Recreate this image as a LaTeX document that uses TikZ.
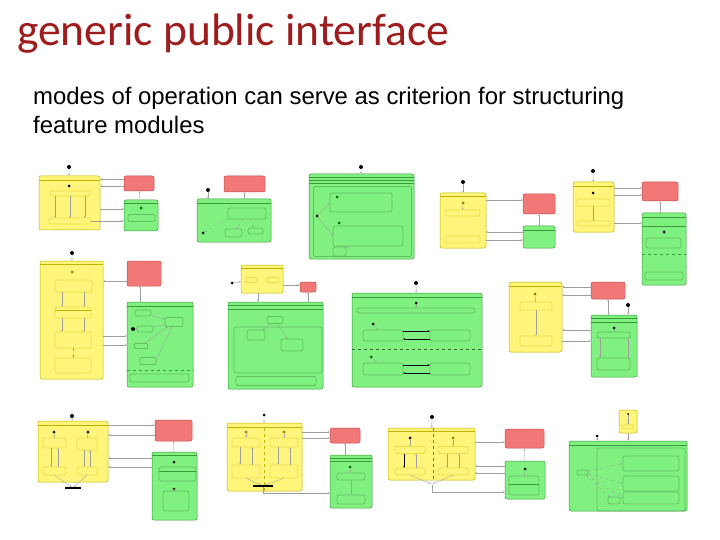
\documentclass[tikz,border=0pt]{standalone}
\usepackage{fontspec}
\setmainfont{Liberation Sans}
\newfontfamily\titlefont{Carlito}
\usepackage{tikz}
\usetikzlibrary{arrows.meta, positioning}

\definecolor{titlered}{HTML}{9E1C1C}
\definecolor{yfill}{HTML}{FFF57A}
\definecolor{ybord}{HTML}{C2B200}
\definecolor{rfill}{HTML}{F27878}
\definecolor{rbord}{HTML}{C04A4A}
\definecolor{gfill}{HTML}{80F080}
\definecolor{gbord}{HTML}{3A9A3A}

\begin{document}
\begin{tikzpicture}[
    x=1pt, y=-1pt,
    >={Stealth[length=2pt, width=1.6pt]},
    modebox/.style={rectangle, rounded corners=2pt, line width=0.5pt, inner sep=0pt},
    ymode/.style={modebox, draw=ybord, fill=yfill},
    rmode/.style={modebox, draw=rbord, fill=rfill},
    gmode/.style={modebox, draw=gbord, fill=gfill},
    ysub/.style={rectangle, rounded corners=1.5pt, draw=ybord, line width=0.3pt, inner sep=0pt},
    gsub/.style={rectangle, rounded corners=1.5pt, draw=gbord!70!black, line width=0.3pt, inner sep=0pt},
    startdot/.style={circle, fill=black, inner sep=0pt, minimum size=4pt},
    ydot/.style={startdot, fill=olive!90!black, minimum size=3pt},
    gdot/.style={startdot, fill=green!40!black, minimum size=3pt},
    sz/.style 2 args={minimum width=#1pt, minimum height=#2pt},
    arrow/.style={->, draw=gray!75, line width=0.35pt},
    hdr/.style={line width=0.3pt}
]
\useasboundingbox (0,0) rectangle (720,540);

% Heading
\node (title) [anchor=base west, inner sep=0pt, text=titlered, font=\titlefont\fontsize{45.5}{45}\selectfont] at (17,46) {generic public interface};
\node (lead1) [anchor=base west, inner sep=0pt, font=\fontsize{23.9}{26}\selectfont] at (33,105) {modes of operation can serve as criterion for structuring};
\node (lead2) [anchor=base west, inner sep=0pt, font=\fontsize{23.9}{26}\selectfont] at (33,134) {feature modules};

% Row 1, thumbnail A
\node (modeA) [ymode, sz={61}{54}] at (69.5,203) {};
\node (failA) [rmode, sz={30}{15}] at (139,183.5) {};
\node (actA) [gmode, sz={34}{31}] at (141,215.5) {};
\node (initA) [startdot] at (69,167) {};
\node (dotA) [startdot, minimum size=3pt] at (69,186) {};
\node (stA1) [ysub, sz={40}{5}] at (70,193.5) {};
\node (stA2) [ysub, sz={42}{6}] at (70,221) {};
\node (dotA2) [gdot] at (141,208) {};
\node (stA3) [gsub, sz={27}{7}] at (141.5,218) {};
\draw [ybord, hdr] ([yshift=-4pt]modeA.north west) -- ([yshift=-4pt]modeA.north east);
\draw [gbord, hdr] ([yshift=-3pt]actA.north west) -- ([yshift=-3pt]actA.north east);
\draw [arrow] (initA) -- (modeA);
\draw [arrow] (failA.west |- 0,179) -- (modeA.east |- 0,179);
\draw [arrow] (failA.west |- 0,186) -- (modeA.east |- 0,186);
\draw [arrow] (actA) -- (failA);
\draw [arrow] (modeA.east |- 0,209) -- (actA.west |- 0,209);
\draw [arrow] (stA2.east) -- (actA.west |- stA2.east);
\draw [arrow] (stA1.south -| 55,0) -- (stA2.north -| 55,0);
\draw [arrow] (stA1.south -| 70,0) -- (stA2.north -| 70,0);
\draw [arrow] (stA1.south -| 85,0) -- (stA2.north -| 85,0);

% Row 1, thumbnail B
\node (failB) [rmode, sz={41}{16}] at (244.5,184) {};
\node (actB) [gmode, sz={74}{43}] at (234,220.5) {};
\node (initB) [startdot] at (208,190) {};
\node (stB1) [gsub, sz={38}{11}] at (247,213.5) {};
\node (stB2) [gsub, sz={17}{8}] at (233.5,233) {};
\node (stB3) [gsub, sz={15}{6}] at (255.5,231) {};
\node (dotB) [startdot, minimum size=3pt] at (203,233) {};
\draw [gbord, hdr] ([yshift=-4pt]actB.north west) -- ([yshift=-4pt]actB.north east);
\draw [arrow] (initB) -- (actB.north -| initB);
\draw [arrow] (actB.north -| failB) -- (failB);
\draw [arrow, dashed] (stB1) -- (stB2);
\draw [arrow, dashed] (stB1) -- (stB3);
\draw [arrow, dashed] (stB1.south west) -- (dotB);

% Row 1, thumbnail C
\node (actC) [gmode, sz={105}{85}] at (361.5,216.5) {};
\node (initC) [startdot] at (361,167) {};
\node (regC) [gsub, sz={98}{70}] at (362.5,221.5) {};
\node (stC1) [gsub, sz={62}{19}] at (361,202.5) {};
\node (stC2) [gsub, sz={70}{20}] at (368,236) {};
\node (stC3) [gsub, sz={13}{9}] at (339.5,251.5) {};
\node (dotC) [startdot, minimum size=3pt] at (317,216) {};
\node (dotC1) [gdot] at (337,197) {};
\node (dotC2) [gdot] at (339,223) {};
\draw [gbord, hdr] ([yshift=-3pt]actC.north west) -- ([yshift=-3pt]actC.north east);
\draw [gbord, hdr] ([yshift=-6pt]actC.north west) -- ([yshift=-6pt]actC.north east);
\draw [gbord, hdr] ([yshift=-9pt]actC.north west) -- ([yshift=-9pt]actC.north east);
\draw [arrow] (initC) -- (actC);
\draw [arrow] (dotC) -- (stC1.west);
\draw [arrow] (dotC) -- (stC2.west);
\draw [arrow] (stC2) -- (stC3);

% Row 1, thumbnail D
\node (modeD) [ymode, sz={46}{55}] at (463,220.5) {};
\node (failD) [rmode, sz={32}{20}] at (539,204) {};
\node (actD) [gmode, sz={32}{22}] at (539,237) {};
\node (initD) [startdot] at (463,182) {};
\node (dotD) [ydot] at (463,203) {};
\node (stD1) [ysub, sz={35}{6}] at (462.5,213) {};
\node (stD2) [ysub, sz={35}{7}] at (462.5,239.5) {};
\draw [ybord, hdr] ([yshift=-3pt]modeD.north west) -- ([yshift=-3pt]modeD.north east);
\draw [gbord, hdr] ([yshift=-4pt]actD.north west) -- ([yshift=-4pt]actD.north east);
\draw [arrow] (initD) -- (modeD);
\draw [arrow] (dotD) -- (stD1);
\draw [arrow] (modeD.east |- 0,200) -- (failD.west |- 0,200);
\draw [arrow] (actD) -- (failD);
\draw [arrow] (actD.west |- 0,232) -- (modeD.east |- 0,232);
\draw [arrow] (modeD.east |- 0,240) -- (actD.west |- 0,240);

% Row 1, thumbnail E
\node (modeE) [ymode, sz={41}{50}] at (593.5,207) {};
\node (failE) [rmode, sz={36}{19}] at (660,191.5) {};
\node (actE) [gmode, sz={44}{72}] at (664,249) {};
\node (initE) [startdot] at (593,171) {};
\node (dotE) [startdot, minimum size=3pt] at (593,193) {};
\node (stE1) [ysub, sz={33}{7}] at (593.5,202.5) {};
\node (stE2) [ysub, sz={33}{5}] at (593.5,223.5) {};
\node (dotE2) [startdot, minimum size=3pt] at (664,232) {};
\node (stE3) [gsub, sz={35}{10}] at (663.5,243) {};
\node (stE4) [gsub, sz={38}{8}] at (664,276) {};
\draw [ybord, hdr] ([yshift=-4pt]modeE.north west) -- ([yshift=-4pt]modeE.north east);
\draw [gbord, hdr] ([yshift=-4pt]actE.north west) -- ([yshift=-4pt]actE.north east);
\draw [gbord, hdr] ([yshift=-13pt]actE.north west) -- ([yshift=-13pt]actE.north east);
\draw [gbord, hdr, dashed] ([yshift=-41pt]actE.north west) -- ([yshift=-41pt]actE.north east);
\draw [arrow] (initE) -- (modeE);
\draw [arrow] (stE1) -- (stE2);
\draw [arrow] (modeE.east |- 0,188) -- (failE.west |- 0,188);
\draw [arrow] (modeE.east |- 0,195) -- (failE.west |- 0,195);
\draw [arrow] (actE.north -| failE) -- (failE);
\draw [arrow] (modeE.east |- 0,223) -- (actE.west |- 0,223);

% Row 2, thumbnail F
\node (modeF) [ymode, sz={63}{118}] at (71.5,320) {};
\node (failF) [rmode, sz={34}{25}] at (144,273.5) {};
\node (actF) [gmode, sz={66}{85}] at (160,344.5) {};
\node (initF) [startdot] at (72,253) {};
\node (dotF) [ydot] at (72,272) {};
\node (stF1) [ysub, sz={37}{12}] at (73.5,286) {};
\node (stF2) [ysub, sz={36}{11}] at (73,312.5) {};
\node (stF3) [ysub, sz={36}{16}] at (73,340) {};
\node (stF4) [ysub, sz={36}{15}] at (73,365.5) {};
\node (dotF2) [startdot] at (133,329) {};
\node (stF5) [gsub, sz={16}{6}] at (143,313) {};
\node (stF6) [gsub, sz={16}{6}] at (145,329) {};
\node (stF7) [gsub, sz={14}{5}] at (141,346) {};
\node (stF8) [gsub, sz={18}{9}] at (174,322) {};
\node (stF9) [gsub, sz={16}{7}] at (148,361) {};
\node (stF10) [gsub, sz={59}{8}] at (159.5,378) {};
\draw [ybord, hdr] ([yshift=-3pt]modeF.north west) -- ([yshift=-3pt]modeF.north east);
\draw [gbord, hdr] ([yshift=-4pt]actF.north west) -- ([yshift=-4pt]actF.north east);
\draw [gbord, hdr, dashed] ([yshift=-68pt]actF.north west) -- ([yshift=-68pt]actF.north east);
\draw [ybord, hdr] ([yshift=-3pt]stF2.north west) -- ([yshift=-3pt]stF2.north east);
\draw [arrow] (initF) -- (modeF);
\draw [arrow] (stF1.south -| 62,0) -- (stF2.north -| 62,0);
\draw [arrow] (stF1.south -| 84,0) -- (stF2.north -| 84,0);
\draw [arrow] (stF2.south -| 62,0) -- (stF3.north -| 62,0);
\draw [arrow] (stF2.south -| 84,0) -- (stF3.north -| 84,0);
\draw [arrow, dashed] (stF3) -- (stF4);
\draw [arrow] (failF.west |- 0,281) -- (modeF.east |- 0,281);
\draw [arrow] (actF.north -| 140,0) -- (failF.south -| 140,0);
\draw [arrow] (modeF.east |- 0,336) -- (actF.west |- 0,336);
\draw [arrow] (modeF.east |- 0,345) -- (actF.west |- 0,345);
\draw [arrow] (dotF2) -- (stF6);
\draw [arrow] (stF5) -- (stF8);
\draw [arrow] (stF6) -- (stF8);
\draw [arrow] (stF7) -- (stF8);
\draw [arrow] (stF9.east) -- (stF8);

% Row 2, thumbnail G
\node (modeG) [ymode, sz={42}{28}] at (262,279) {};
\node (failG) [rmode, sz={16}{10}] at (308,287) {};
\node (actG) [gmode, sz={95}{87}] at (275.5,345.5) {};
\node (initG) [startdot, minimum size=3pt] at (232,283) {};
\node (stG1) [ysub, sz={12}{5}] at (251,280) {};
\node (stG2) [ysub, sz={12}{5}] at (273,280) {};
\node (regG) [gsub, sz={88}{46}] at (278,350) {};
\node (stG3) [gsub, sz={16}{7}] at (275,320) {};
\node (stG4) [gsub, sz={18}{10}] at (256,335) {};
\node (stG5) [gsub, sz={22}{12}] at (292,345) {};
\node (stG6) [gsub, sz={80}{9}] at (276,381) {};
\draw [ybord, hdr] ([yshift=-3pt]modeG.north west) -- ([yshift=-3pt]modeG.north east);
\draw [gbord, hdr] ([yshift=-3pt]actG.north west) -- ([yshift=-3pt]actG.north east);
\draw [gbord, hdr] ([yshift=-7pt]actG.north west) -- ([yshift=-7pt]actG.north east);
\draw [arrow] (initG) -- (modeG);
\draw [arrow] (modeG.east |- 0,285) -- (failG.west |- 0,285);
\draw [arrow] (actG.north -| failG) -- (failG);
\draw [arrow] (modeG.south -| 258,0) -- (actG.north -| 258,0);
\draw [arrow] (stG3) -- (stG4);
\draw [arrow] (stG3) -- (stG5);

% Row 2, thumbnail H
\node (actH) [gmode, sz={130}{94}] at (417,340) {};
\node (initH) [startdot] at (416,283) {};
\node (dotH) [startdot, minimum size=3pt] at (416,303) {};
\node (regH) [gsub, sz={118}{5}] at (416,310.5) {};
\node (stH1) [gsub, sz={40}{11}] at (383,335.5) {};
\node (stH2) [gsub, sz={40}{11}] at (450,335.5) {};
\node (stH3) [gsub, sz={40}{12}] at (383,369) {};
\node (stH4) [gsub, sz={40}{12}] at (450,369) {};
\node (dotH1) [startdot, minimum size=3pt] at (373,324) {};
\node (dotH2) [gdot] at (371,357) {};
\draw [gbord, hdr] ([yshift=-4pt]actH.north west) -- ([yshift=-4pt]actH.north east);
\draw [gbord!70!black, hdr, dashed] ([yshift=-56pt]actH.north west) -- ([yshift=-56pt]actH.north east);
\draw [arrow] (initH) -- (actH);
\draw [arrow] (dotH) -- (regH);
\draw [arrow] (dotH1) -- (stH1);
\draw [arrow] (dotH2) -- (stH3);
\draw [->, thick] (stH1.east |- 0,331) -- (stH2.west |- 0,331);
\draw [->, thick] (stH2.west |- 0,339) -- (stH1.east |- 0,339);
\draw [->, thick] (stH3.east |- 0,365) -- (stH4.west |- 0,365);
\draw [->, thick] (stH4.west |- 0,373) -- (stH3.east |- 0,373);

% Row 2, thumbnail I
\node (modeI) [ymode, sz={53}{70}] at (535.5,317) {};
\node (failI) [rmode, sz={34}{17}] at (608,290.5) {};
\node (actI) [gmode, sz={46}{62}] at (614,346) {};
\node (initI) [startdot] at (628,305) {};
\node (dotI) [ydot] at (535,294) {};
\node (stI1) [ysub, sz={32}{8}] at (536,306) {};
\node (stI2) [ysub, sz={32}{10}] at (536,341) {};
\node (dotI2) [startdot, minimum size=3pt] at (614,328) {};
\node (stI3) [gsub, sz={33}{6}] at (613.5,335) {};
\node (stI4) [gsub, sz={33}{12}] at (613.5,364) {};
\draw [ybord, hdr] ([yshift=-4pt]modeI.north west) -- ([yshift=-4pt]modeI.north east);
\draw [gbord, hdr] ([yshift=-3pt]actI.north west) -- ([yshift=-3pt]actI.north east);
\draw [gbord, hdr] ([yshift=-7pt]actI.north west) -- ([yshift=-7pt]actI.north east);
\draw [arrow] (dotI) -- (stI1);
\draw [arrow] (stI1) -- (stI2);
\draw [arrow] (failI.west |- 0,287) -- (modeI.east |- 0,287);
\draw [arrow] (failI.west |- 0,295) -- (modeI.east |- 0,295);
\draw [arrow] (actI.north -| failI) -- (failI);
\draw [arrow] (initI) -- (actI.north -| initI);
\draw [arrow] (modeI.east |- 0,341) -- (actI.west |- 0,341);
\draw [arrow] (actI.west |- 0,330) -- (modeI.east |- 0,330);
\draw [arrow] (dotI2) -- (stI3);
\draw [arrow] (stI3.south -| 600,0) -- (stI4.north -| 600,0);
\draw [arrow] (stI4.north -| 628,0) -- (stI3.south -| 628,0);

% Row 3, thumbnail J
\node (modeJ) [ymode, sz={70}{61}] at (73,451.5) {};
\node (failJ) [rmode, sz={37}{21}] at (173.5,430.5) {};
\node (actJ) [gmode, sz={45}{68}] at (174.5,486) {};
\node (initJ) [startdot] at (72,416) {};
\node (dotJ1) [startdot, minimum size=3pt] at (54,432) {};
\node (dotJ2) [startdot, minimum size=3pt] at (88,432) {};
\node (stJ1) [ysub, sz={23}{10}] at (54.5,443) {};
\node (stJ2) [ysub, sz={20}{12}] at (87,444) {};
\node (stJ3) [ysub, sz={23}{8}] at (54.5,471) {};
\node (stJ4) [ysub, sz={20}{8}] at (87,471) {};
\node (barJ) [rectangle, fill=black, inner sep=0pt, sz={16}{1.5}] at (73,488) {};
\node (dotJ3) [startdot, minimum size=3pt] at (174,462) {};
\node (stJ5) [gsub, sz={37}{14}] at (177.5,474) {};
\node (dotJ4) [startdot, minimum size=3pt] at (174,489) {};
\node (stJ6) [gsub, sz={26}{20}] at (176,501) {};
\draw [ybord, hdr] ([yshift=-4pt]modeJ.north west) -- ([yshift=-4pt]modeJ.north east);
\draw [gbord, hdr] ([yshift=-3pt]actJ.north west) -- ([yshift=-3pt]actJ.north east);
\draw [gbord, hdr] ([yshift=-4pt]stJ5.north west) -- ([yshift=-4pt]stJ5.north east);
\draw [arrow] (initJ) -- (modeJ);
\draw [arrow] (dotJ1) -- (stJ1);
\draw [arrow] (dotJ2) -- (stJ2);
\draw [arrow] (stJ1.south -| 51,0) -- (stJ3.north -| 51,0);
\draw [arrow] (stJ3.north -| 58,0) -- (stJ1.south -| 58,0);
\draw [arrow] (stJ2.south -| 84,0) -- (stJ4.north -| 84,0);
\draw [arrow] (stJ4.north -| 90,0) -- (stJ2.south -| 90,0);
\draw [arrow] (stJ3.south) -- (barJ);
\draw [arrow] (stJ4.south) -- (barJ);
\draw [arrow] (modeJ.east |- 0,425) -- (failJ.west |- 0,425);
\draw [arrow] (failJ.west |- 0,435) -- (modeJ.east |- 0,435);
\draw [arrow] (actJ.west |- 0,458) -- (modeJ.east |- 0,458);
\draw [arrow] (actJ.west |- 0,467) -- (modeJ.east |- 0,467);
\draw [arrow] (actJ) -- (failJ);
\draw [arrow] (dotJ4) -- (stJ6);

% Row 3, thumbnail K
\node (modeK) [ymode, sz={75}{68}] at (264.5,457) {};
\node (failK) [rmode, sz={30}{15}] at (345,435.5) {};
\node (actK) [gmode, sz={42}{53}] at (351,481.5) {};
\node (initK) [startdot, minimum size=3pt] at (264,415) {};
\node (dotK1) [ydot] at (246,432) {};
\node (dotK2) [ydot] at (284,432) {};
\node (stK1) [ysub, sz={28}{9}] at (246,442.5) {};
\node (stK2) [ysub, sz={28}{9}] at (284,442.5) {};
\node (stK3) [ysub, sz={28}{13}] at (246,471.5) {};
\node (stK4) [ysub, sz={28}{13}] at (284,471.5) {};
\node (barK) [rectangle, fill=black, inner sep=0pt, sz={20}{1.5}] at (263,486) {};
\node (dotK3) [gdot] at (350,467) {};
\node (stK5) [gsub, sz={28}{7}] at (351,476.5) {};
\node (stK6) [gsub, sz={28}{9}] at (351,499.5) {};
\draw [ybord, hdr] ([yshift=-4pt]modeK.north west) -- ([yshift=-4pt]modeK.north east);
\draw [ybord, hdr, dashed] (modeK.north |- 0,428) -- (modeK.south);
\draw [gbord, hdr] ([yshift=-3pt]actK.north west) -- ([yshift=-3pt]actK.north east);
\draw [gbord, hdr] ([yshift=-6pt]actK.north west) -- ([yshift=-6pt]actK.north east);
\draw [arrow] (initK) -- (modeK);
\draw [arrow] (dotK1) -- (stK1);
\draw [arrow] (dotK2) -- (stK2);
\draw [arrow] (stK1.south -| 240,0) -- (stK3.north -| 240,0);
\draw [arrow] (stK3.north -| 252,0) -- (stK1.south -| 252,0);
\draw [arrow] (stK2.south -| 278,0) -- (stK4.north -| 278,0);
\draw [arrow] (stK4.north -| 290,0) -- (stK2.south -| 290,0);
\draw [arrow] (stK3.south) -- (barK);
\draw [arrow] (stK4.south) -- (barK);
\draw [arrow] (modeK.east |- 0,432) -- (failK.west |- 0,432);
\draw [arrow] (modeK.east |- 0,438) -- (failK.west |- 0,438);
\draw [arrow] (actK.north -| failK) -- (failK);
\draw [arrow] (barK) |- (actK.west |- 0,493);
\draw [arrow] (dotK3) -- (stK5);
\draw [arrow] (stK5) -- (stK6);

% Row 3, thumbnail L
\node (modeL) [ymode, sz={87}{52}] at (431.5,454) {};
\node (failL) [rmode, sz={39}{19}] at (524.5,438.5) {};
\node (actL) [gmode, sz={40}{38}] at (525,480) {};
\node (initL) [startdot] at (432,417) {};
\node (dotL1) [startdot, minimum size=3pt] at (410,438) {};
\node (dotL2) [ydot] at (453,438) {};
\node (stL1) [ysub, sz={30}{7}] at (410,450) {};
\node (stL2) [ysub, sz={30}{7}] at (453,450) {};
\node (stL3) [ysub, sz={30}{7}] at (410,471.5) {};
\node (stL4) [ysub, sz={30}{7}] at (453,471.5) {};
\node (joinL) [inner sep=0pt, minimum size=1pt] at (432,484) {};
\node (dotL3) [startdot, minimum size=3pt] at (525,469) {};
\node (stL5) [gsub, sz={30}{19}] at (524,485.5) {};
\draw [ybord, hdr] ([yshift=-3pt]modeL.north west) -- ([yshift=-3pt]modeL.north east);
\draw [ybord!70!black, hdr, dashed] (modeL.north -| 433,0) -- (modeL.south -| 433,0);
\draw [gbord, hdr] ([yshift=-8pt]stL5.north west) -- ([yshift=-8pt]stL5.north east);
\draw [arrow] (initL) -- (modeL);
\draw [arrow] (dotL1) -- (stL1);
\draw [arrow] (dotL2) -- (stL2);
\draw [->, line width=0.35pt] (stL1.south -| 404,0) -- (stL3.north -| 404,0);
\draw [arrow] (stL3.north -| 416,0) -- (stL1.south -| 416,0);
\draw [arrow] (stL2.south -| 447,0) -- (stL4.north -| 447,0);
\draw [arrow] (stL4.north -| 459,0) -- (stL2.south -| 459,0);
\draw [arrow] (stL3.south) -- (joinL);
\draw [arrow] (stL4.south) -- (joinL);
\draw [arrow] (joinL) |- (actL.west |- 0,492);
\draw [arrow] (modeL.east |- 0,442) -- (failL.west |- 0,442);
\draw [arrow] (actL.west |- 0,466) -- (modeL.east |- 0,466);
\draw [arrow] (actL.west |- 0,473) -- (modeL.east |- 0,473);
\draw [arrow] (actL) -- (failL);
\draw [arrow] (dotL3) -- (stL5);

% Row 3, thumbnail M
\node (modeM) [ymode, sz={18}{23}] at (628,421.5) {};
\node (actM) [gmode, sz={118}{70}] at (628,476) {};
\node (initM) [startdot, minimum size=3pt] at (597,436) {};
\node (dotM) [startdot, minimum size=2pt] at (628,414) {};
\node (stM0) [ysub, sz={12}{4}] at (628,427) {};
\node (regM) [gsub, sz={88}{63}] at (641,479.5) {};
\node (stM1) [gsub, sz={56}{15}] at (651,463.5) {};
\node (stM2) [gsub, sz={56}{15}] at (651,483.5) {};
\node (stM3) [gsub, sz={56}{12}] at (651,498) {};
\node (stM4) [gsub, sz={11}{5}] at (582.5,472.5) {};
\node (stM5) [gsub, sz={12}{7}] at (614,500.5) {};
\draw [gbord, hdr] ([yshift=-4pt]actM.north west) -- ([yshift=-4pt]actM.north east);
\draw [arrow] (dotM) -- (stM0);
\draw [arrow] (modeM) -- (actM.north -| modeM);
\draw [arrow] (initM) -- (actM.north -| initM);
\draw [arrow, dashed] (stM4) -- (stM1.west);
\draw [arrow, dashed] (stM4) -- (stM2.west);
\draw [arrow, dashed] (stM4) -- (stM3.west);
\draw [arrow, dashed] (stM4) -- (stM5);

\end{tikzpicture}
\end{document}
